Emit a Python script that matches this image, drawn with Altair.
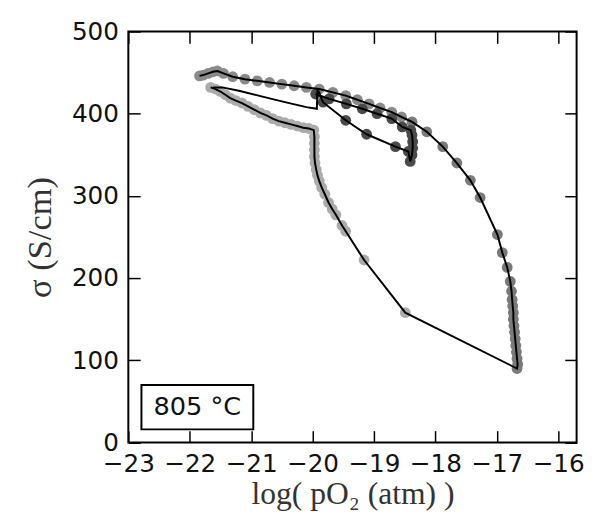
import altair as alt
import pandas as pd

# ---- axis ticks ----
x_ticks = [-23, -22, -21, -20, -19, -18, -17, -16]
y_ticks = [0, 100, 200, 300, 400, 500]

# ---- data ----
# reduction branch: lower curve, vertical drop, diagonal (light grey circles)
lower_x = [-21.66, -21.58, -21.50, -21.42, -21.34, -21.25, -21.15, -21.05, -20.95, -20.85,
           -20.75, -20.65, -20.55, -20.45, -20.35, -20.25, -20.15, -20.06,
           -19.98, -19.97, -19.97, -19.97, -19.97, -19.96, -19.94, -19.92, -19.89, -19.85,
           -19.80, -19.74, -19.68, -19.62, -19.52, -19.46, -19.16, -18.49]
lower_y = [432, 430, 427, 423, 419, 416, 413, 409, 405, 401,
           398, 394, 391, 389, 387, 385, 383, 382,
           380, 372, 364, 356, 348, 340, 332, 325, 318, 310,
           302, 292, 284, 277, 264, 257, 222, 158]

# bottom turn and right-hand rising curve (mid grey circles)
right_x = [-16.67, -16.66, -16.67, -16.68, -16.69, -16.70, -16.71, -16.72, -16.73, -16.73,
           -16.74, -16.75, -16.76, -16.78, -16.83, -16.91, -16.99, -17.27, -17.43, -17.65,
           -17.88, -18.14, -18.38]
right_y = [90, 95, 102, 110, 118, 126, 134, 142, 150, 158,
           166, 174, 184, 196, 213, 231, 253, 298, 319, 340,
           360, 378, 390]

# upper band running back to low pO2 (grey circles)
top_x = [-18.55, -18.71, -18.90, -19.08, -19.27, -19.46, -19.67, -19.89, -20.10, -20.30,
         -20.50, -20.70, -20.90, -21.10, -21.30, -21.45, -21.55, -21.62, -21.70, -21.78,
         -21.84]
top_y = [396, 402, 407, 412, 417, 422, 426, 430, 432, 434,
         436, 438, 440, 442, 445, 449, 452, 451, 449, 447,
         446]

# connecting line from the start point to -20 (no circles)
mid_x = [-21.62, -21.47, -21.20, -20.88, -20.50, -20.10, -19.93, -19.92]
mid_y = [432, 432, 428, 422, 415, 408, 406, 430]

# small inner loop (dark circles)
loop_x = [-19.83, -19.46, -19.12, -18.65, -18.44, -18.41, -18.38, -18.37, -18.37, -18.38,
          -18.40, -18.54, -18.71, -18.95, -19.19, -19.45, -19.73, -19.95]
loop_y = [414, 392, 375, 360, 354, 342, 350, 358, 366, 374,
          380, 384, 394, 400, 406, 412, 418, 424]

label_text = ["805 °C"]

# ---- build table ----
rows = []
def add(xs, ys, path, shade):
    for xv, yv in zip(xs, ys):
        rows.append({"x": xv, "y": yv, "path": path, "shade": shade, "idx": len(rows)})

add(lower_x, lower_y, "A", "light")
add(right_x, right_y, "A", "mid")
add(top_x, top_y, "A", "grey")
add(mid_x, mid_y, "B", "none")
add(loop_x, loop_y, "B", "dark")
df = pd.DataFrame(rows)
annot = pd.DataFrame({"label": label_text})

xscale = alt.Scale(domain=[-23, -15.7], nice=False, zero=False)
yscale = alt.Scale(domain=[0, 500], nice=False, zero=False)

tick_common = dict(tickSize=12, tickWidth=1.5, tickColor="black", domain=False,
                   grid=False, offset=-12, labelOverlap=False, labelFlush=False)

x_bottom = alt.Axis(values=x_ticks, format="d", orient="bottom", labelPadding=9,
                    title="log( pO₂ (atm) )", titlePadding=3, **tick_common)
y_left = alt.Axis(values=y_ticks, format="d", orient="left", labelPadding=10,
                  title="σ (S/cm)", titlePadding=14, titleFontSize=35, **tick_common)
x_top = alt.Axis(values=x_ticks, orient="top", labels=False, title=None, **tick_common)
y_right = alt.Axis(values=y_ticks, orient="right", labels=False, title=None, **tick_common)

circles = alt.Chart(df).transform_filter("datum.shade != 'none'").mark_circle(
    size=120, opacity=1
).encode(
    x=alt.X("x:Q", scale=xscale, axis=x_bottom),
    y=alt.Y("y:Q", scale=yscale, axis=y_left),
    color=alt.Color("shade:N",
                    scale=alt.Scale(domain=["light", "mid", "grey", "dark"],
                                    range=["#ababab", "#7a7a7a", "#8a8a8a", "#4a4a4a"]),
                    legend=None),
)

line = alt.Chart(df).mark_line(color="black", strokeWidth=2).encode(
    x=alt.X("x:Q", scale=xscale, axis=x_top),
    y=alt.Y("y:Q", scale=yscale, axis=y_right),
    detail="path:N",
    order="idx:Q",
)

box = alt.Chart(annot).mark_rect(fill="white", stroke="black", strokeWidth=2).encode(
    x=alt.value(13.3), x2=alt.value(126.7), y=alt.value(358.4), y2=alt.value(403.4)
)
text = alt.Chart(annot).mark_text(font="DejaVu Sans", fontSize=26, align="center",
                                   baseline="middle", color="#111").encode(
    text="label:N", x=alt.value(70), y=alt.value(381)
)

chart = alt.layer(circles, line, box, text).resolve_axis(
    x="independent", y="independent"
).properties(
    width=454.5, height=416.7,
    padding={"left": 122, "top": 20.3, "right": 7.5, "bottom": 72},
    autosize=alt.AutoSizeParams(type="none"),
).configure_view(
    stroke="black", strokeWidth=2
).configure_axis(
    labelFont="DejaVu Sans", labelFontSize=25, labelColor="#111",
    titleFont="Liberation Serif", titleFontSize=32, titleFontWeight="normal",
    titleColor="#333",
)

chart.save("out.html", embed_options={"renderer": "svg", "actions": False})
